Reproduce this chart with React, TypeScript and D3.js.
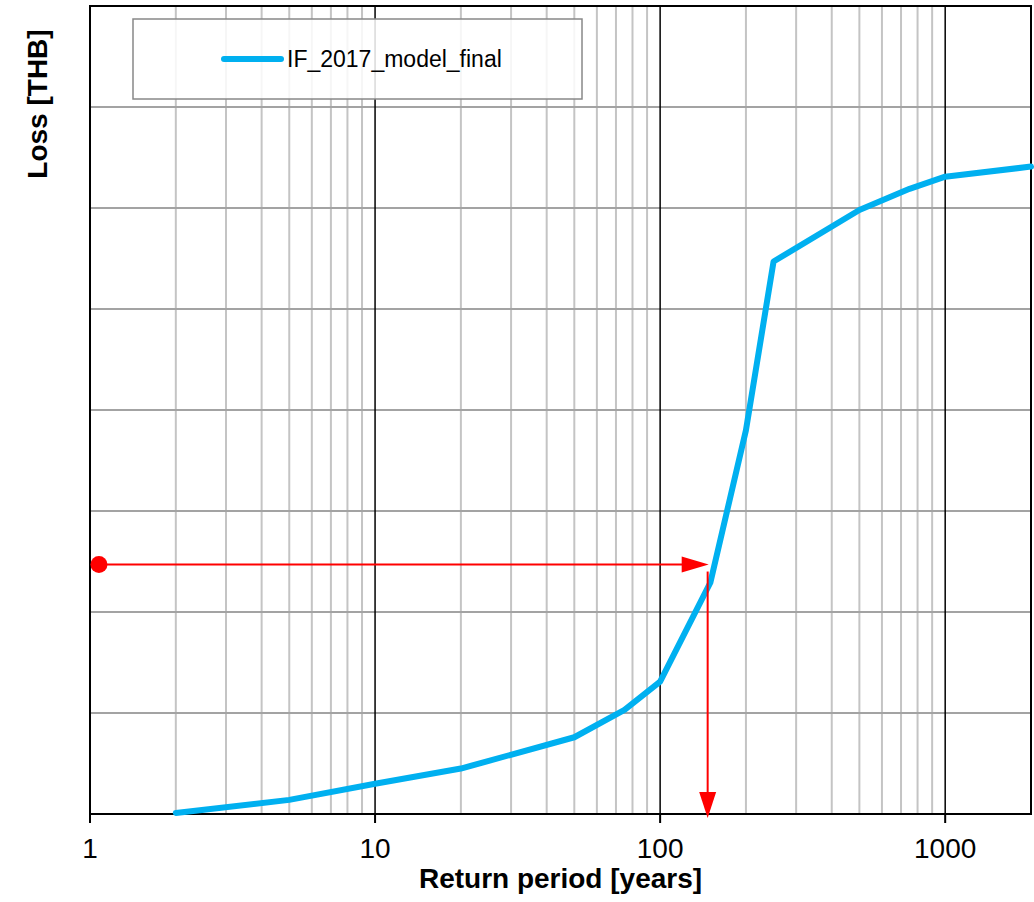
import React, { useEffect, useRef } from "react";
import * as d3 from "d3";

// Return period curve (x in years, loss in arbitrary units; no y labels on the original)
const returnPeriods = [2, 5, 10, 20, 50, 75, 100, 150, 200, 250, 500, 750, 1000, 2000];
const losses = [0.01, 0.14, 0.3, 0.45, 0.76, 1.03, 1.31, 2.29, 3.8, 5.47, 5.98, 6.19, 6.31, 6.41];

const seriesName = "IF_2017_model_final";
const xTickLabels = [1, 10, 100, 1000];
const yGridValues = [0, 1, 2, 3, 4, 5, 6, 7, 8];

// red read-off annotation
const markerStartPeriod = 1.075;
const markerLoss = 2.47;
const markerPeriod = 148;

const App = () => {
  const svgRef = useRef(null);

  useEffect(() => {
    drawChart();
  }, []);

  const drawChart = () => {
    const svg = d3.select(svgRef.current);
    svg.selectAll("*").remove();

    const margin = { top: 6, right: 3, bottom: 88, left: 90 };
    const width = 1034;
    const height = 902;
    const font = "Liberation Sans, Arial, sans-serif";

    const x = d3
      .scaleLog()
      .domain([1, 2000])
      .range([margin.left, width - margin.right]);
    const y = d3
      .scaleLinear()
      .domain([0, 8])
      .range([height - margin.bottom, margin.top]);

    const [x0, x1] = x.range();
    const [yBottom, yTop] = y.range();

    // minor vertical grid
    const minor = [];
    for (let dec = 1; dec <= 1000; dec *= 10) {
      for (let k = 2; k <= 9; k++) {
        const v = dec * k;
        if (v < 2000) minor.push(v);
      }
    }
    svg
      .append("g")
      .selectAll("line")
      .data(minor)
      .join("line")
      .attr("x1", (d) => x(d))
      .attr("x2", (d) => x(d))
      .attr("y1", yTop)
      .attr("y2", yBottom)
      .attr("stroke", "#c4c4c4")
      .attr("stroke-width", 2);

    // horizontal grid
    svg
      .append("g")
      .selectAll("line")
      .data(yGridValues)
      .join("line")
      .attr("x1", x0)
      .attr("x2", x1)
      .attr("y1", (d) => y(d))
      .attr("y2", (d) => y(d))
      .attr("stroke", "#a3a3a3")
      .attr("stroke-width", 2);

    // major vertical grid
    svg
      .append("g")
      .selectAll("line")
      .data(xTickLabels.slice(1))
      .join("line")
      .attr("x1", (d) => x(d))
      .attr("x2", (d) => x(d))
      .attr("y1", yTop)
      .attr("y2", yBottom)
      .attr("stroke", "#000")
      .attr("stroke-width", 1.5);

    // frame
    svg
      .append("rect")
      .attr("x", x0)
      .attr("y", yTop)
      .attr("width", x1 - x0)
      .attr("height", yBottom - yTop)
      .attr("fill", "none")
      .attr("stroke", "#000")
      .attr("stroke-width", 2);

    // x ticks + labels
    const xt = svg.append("g");
    xt.selectAll("line")
      .data(xTickLabels)
      .join("line")
      .attr("x1", (d) => x(d))
      .attr("x2", (d) => x(d))
      .attr("y1", yBottom)
      .attr("y2", yBottom + 9)
      .attr("stroke", "#000")
      .attr("stroke-width", 2);
    xt.selectAll("text")
      .data(xTickLabels)
      .join("text")
      .attr("x", (d) => x(d))
      .attr("y", yBottom + 44)
      .attr("text-anchor", "middle")
      .attr("font-family", font)
      .attr("font-size", 28)
      .attr("fill", "#000")
      .text((d) => d);

    // axis titles
    svg
      .append("text")
      .attr("x", (x0 + x1) / 2)
      .attr("y", yBottom + 74)
      .attr("text-anchor", "middle")
      .attr("font-family", font)
      .attr("font-size", 28)
      .attr("font-weight", "bold")
      .text("Return period [years]");
    svg
      .append("text")
      .attr("transform", `translate(47,104) rotate(-90)`)
      .attr("text-anchor", "middle")
      .attr("font-family", font)
      .attr("font-size", 28)
      .attr("font-weight", "bold")
      .text("Loss [THB]");

    // curve
    const data = returnPeriods.map((rp, i) => ({ rp, loss: losses[i] }));
    const line = d3
      .line()
      .x((d) => x(d.rp))
      .y((d) => y(d.loss));
    svg
      .append("path")
      .datum(data)
      .attr("fill", "none")
      .attr("stroke", "#00b0f0")
      .attr("stroke-width", 6)
      .attr("stroke-linejoin", "round")
      .attr("stroke-linecap", "round")
      .attr("d", line);

    // annotation arrows
    const red = "#ff0000";
    const ax0 = x(markerStartPeriod);
    const ay = y(markerLoss);
    const axTip = x(markerPeriod);
    svg
      .append("line")
      .attr("x1", ax0)
      .attr("x2", axTip - 24)
      .attr("y1", ay)
      .attr("y2", ay)
      .attr("stroke", red)
      .attr("stroke-width", 2);
    svg
      .append("path")
      .attr("d", `M${axTip},${ay} L${axTip - 27},${ay - 8} L${axTip - 27},${ay + 8} Z`)
      .attr("fill", red);
    svg
      .append("circle")
      .attr("cx", ax0)
      .attr("cy", ay)
      .attr("r", 8.5)
      .attr("fill", red);

    const vTip = yBottom + 4;
    svg
      .append("line")
      .attr("x1", axTip - 1)
      .attr("x2", axTip - 1)
      .attr("y1", ay + 7)
      .attr("y2", vTip - 22)
      .attr("stroke", red)
      .attr("stroke-width", 2);
    svg
      .append("path")
      .attr(
        "d",
        `M${axTip - 1},${vTip} L${axTip - 9.5},${vTip - 26} L${axTip + 7.5},${vTip - 26} Z`
      )
      .attr("fill", red);

    // legend
    const lg = svg.append("g");
    lg.append("rect")
      .attr("x", 133)
      .attr("y", 19)
      .attr("width", 449)
      .attr("height", 80)
      .attr("fill", "#fff")
      .attr("fill-opacity", 0.85)
      .attr("stroke", "#888")
      .attr("stroke-width", 1.5);
    lg.append("line")
      .attr("x1", 224)
      .attr("x2", 281)
      .attr("y1", 59)
      .attr("y2", 59)
      .attr("stroke", "#00b0f0")
      .attr("stroke-width", 6)
      .attr("stroke-linecap", "round");
    lg.append("text")
      .attr("x", 287)
      .attr("y", 67)
      .attr("font-family", font)
      .attr("font-size", 23)
      .attr("fill", "#000")
      .text(seriesName);
  };

  return (
    <svg
      ref={svgRef}
      width="1034"
      height="902"
      style={{ position: "absolute", left: 0, top: 0, background: "#fff" }}
    ></svg>
  );
};

export default App;
